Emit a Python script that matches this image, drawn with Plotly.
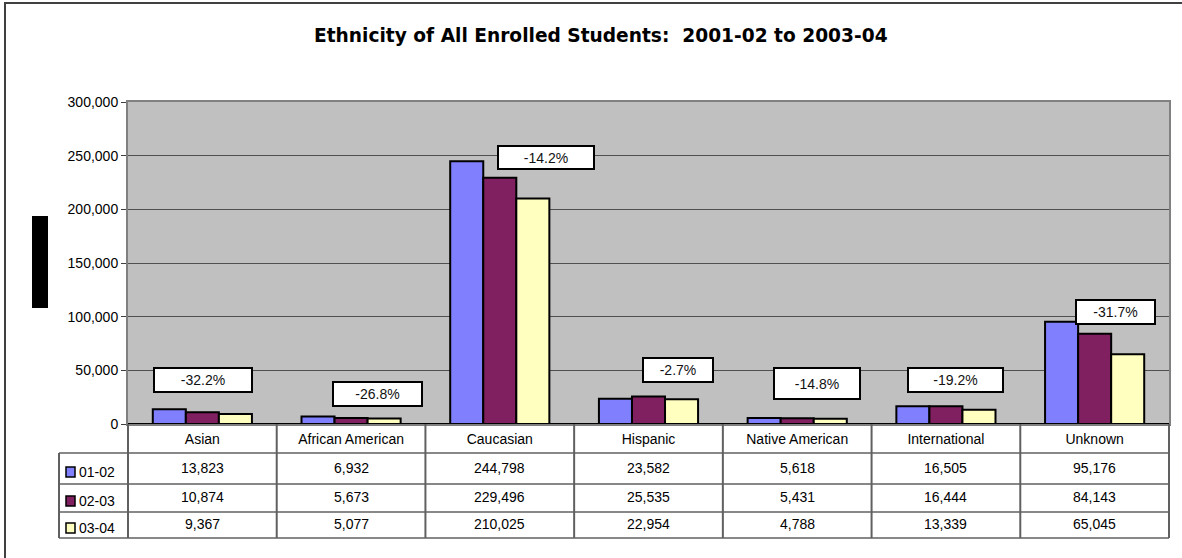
import plotly.graph_objects as go

# ---------------- data ----------------
categories = ["Asian", "African American", "Caucasian", "Hispanic",
              "Native American", "International", "Unknown"]
series_names = ["01-02", "02-03", "03-04"]
values_0102 = [13823, 6932, 244798, 23582, 5618, 16505, 95176]
values_0203 = [10874, 5673, 229496, 25535, 5431, 16444, 84143]
values_0304 = [9367, 5077, 210025, 22954, 4788, 13339, 65045]
change_labels = ["-32.2%", "-26.8%", "-14.2%", "-2.7%", "-14.8%", "-19.2%", "-31.7%"]
y_tick_values = [0, 50000, 100000, 150000, 200000, 250000, 300000]

title_text = "Ethnicity of All Enrolled Students:  2001-02 to 2003-04"

# ---------------- layout / style ----------------
W, H = 1182, 558
L, R, T, B = 128, 13, 102, 134          # plot area 128..1169 x 102..424
PW, PH = W - L - R, H - T - B
colors = ["#8080FF", "#802060", "#FFFFC0"]
FONT = "Liberation Sans, Arial, sans-serif"
FS = 14

# change-label boxes: (xshift px from category centre, y value of box centre, box w, box h)
label_layout = [
    (1, 41000, 96, 22),
    (26, 28000, 87, 22),
    (46, 248000, 94, 21),
    (29, 50500, 68, 22),
    (20, 37500, 84, 29),
    (10, 41000, 93, 22),
    (21, 104000, 77, 22),
]


def px_x(px):
    return (px - L) / PW


def px_y(py):
    return (H - B - py) / PH


fig = go.Figure()
all_series = [values_0102, values_0203, values_0304]
for name, vals, col in zip(series_names, all_series, colors):
    fig.add_trace(go.Bar(
        x=categories, y=vals, name=name,
        marker=dict(color=col, line=dict(color="black", width=2)),
        hoverinfo="x+y+name",
    ))

shapes = []
annotations = []

# outer chart border (extends past the right / bottom of the view)
shapes.append(dict(type="rect", xref="paper", yref="paper",
                   x0=px_x(5), x1=px_x(1195), y0=px_y(3), y1=px_y(575),
                   line=dict(color="#404040", width=2), fillcolor="rgba(0,0,0,0)", layer="below"))
# black axis-title block
shapes.append(dict(type="rect", xref="paper", yref="paper",
                   x0=px_x(32), x1=px_x(48), y0=px_y(216), y1=px_y(308),
                   line=dict(width=0), fillcolor="black"))
# zero line
shapes.append(dict(type="line", xref="paper", yref="y", x0=0, x1=1, y0=0, y1=0,
                   line=dict(color="black", width=2)))

# change labels
for i, (lab, (xs, yv, bw, bh)) in enumerate(zip(change_labels, label_layout)):
    annotations.append(dict(
        x=categories[i], y=yv, xref="x", yref="y", xshift=xs,
        text=lab, showarrow=False,
        font=dict(family=FONT, size=FS, color="#111"),
        bgcolor="white", bordercolor="black", borderwidth=2, borderpad=0,
        width=bw, height=bh, valign="middle"))

# ---------------- data table ----------------
row_lines = [453, 484, 512, 538]
tbl_left = 59
for yy in row_lines:
    shapes.append(dict(type="line", xref="paper", yref="paper",
                       x0=px_x(tbl_left), x1=1, y0=px_y(yy), y1=px_y(yy),
                       line=dict(color="#606060", width=1.5)))
n = len(categories)
for k in range(n + 1):
    xx = k / n
    shapes.append(dict(type="line", xref="paper", yref="paper",
                       x0=xx, x1=xx, y0=0, y1=px_y(row_lines[-1]),
                       line=dict(color="#606060", width=2)))
shapes.append(dict(type="line", xref="paper", yref="paper",
                   x0=px_x(tbl_left), x1=px_x(tbl_left), y0=px_y(row_lines[0]), y1=px_y(row_lines[-1]),
                   line=dict(color="#606060", width=2)))

row_text_y = [468, 497, 524]
for r, (name, vals, col) in enumerate(zip(series_names, all_series, colors)):
    yc = row_text_y[r]
    shapes.append(dict(type="rect", xref="paper", yref="paper",
                       x0=px_x(66), x1=px_x(75), y0=px_y(yc - 1), y1=px_y(yc + 9),
                       line=dict(color="black", width=1.5), fillcolor=col))
    annotations.append(dict(x=px_x(77), y=px_y(yc + 4), xref="paper", yref="paper",
                            text=name, showarrow=False, xanchor="left", yanchor="middle",
                            font=dict(family=FONT, size=FS, color="black")))
    for k, v in enumerate(vals):
        annotations.append(dict(x=(k + 0.5) / n, y=px_y(yc), xref="paper", yref="paper",
                                text=f"{v:,}", showarrow=False, xanchor="center", yanchor="middle",
                                font=dict(family=FONT, size=FS, color="black")))

# title
annotations.append(dict(x=px_x(601), y=px_y(35), xref="paper", yref="paper",
                        text="<b>" + title_text + "</b>", showarrow=False,
                        xanchor="center", yanchor="middle",
                        font=dict(family="DejaVu Sans, sans-serif", size=18.6, color="black")))

fig.update_layout(
    width=W, height=H, autosize=False,
    margin=dict(l=L, r=R, t=T, b=B, pad=0),
    paper_bgcolor="white", plot_bgcolor="#C0C0C0",
    barmode="group", bargap=1 / 3, bargroupgap=0,
    showlegend=False,
    font=dict(family=FONT, size=FS, color="black"),
    shapes=shapes, annotations=annotations,
)
fig.update_xaxes(
    type="category", showgrid=False, ticks="", showline=True,
    linecolor="#808080", linewidth=2, mirror=True,
    tickfont=dict(family=FONT, size=FS, color="black"),
    ticklabelstandoff=1,
)
fig.update_yaxes(
    range=[0, 300000], tickvals=y_tick_values, tickformat=",",
    showgrid=True, gridcolor="#505050", gridwidth=1,
    showline=True, linecolor="#808080", linewidth=2, mirror=True,
    ticks="outside", ticklen=5, tickcolor="#404040",
    tickfont=dict(family=FONT, size=FS, color="black"),
    zeroline=False,
)

fig.write_html("out.html")
